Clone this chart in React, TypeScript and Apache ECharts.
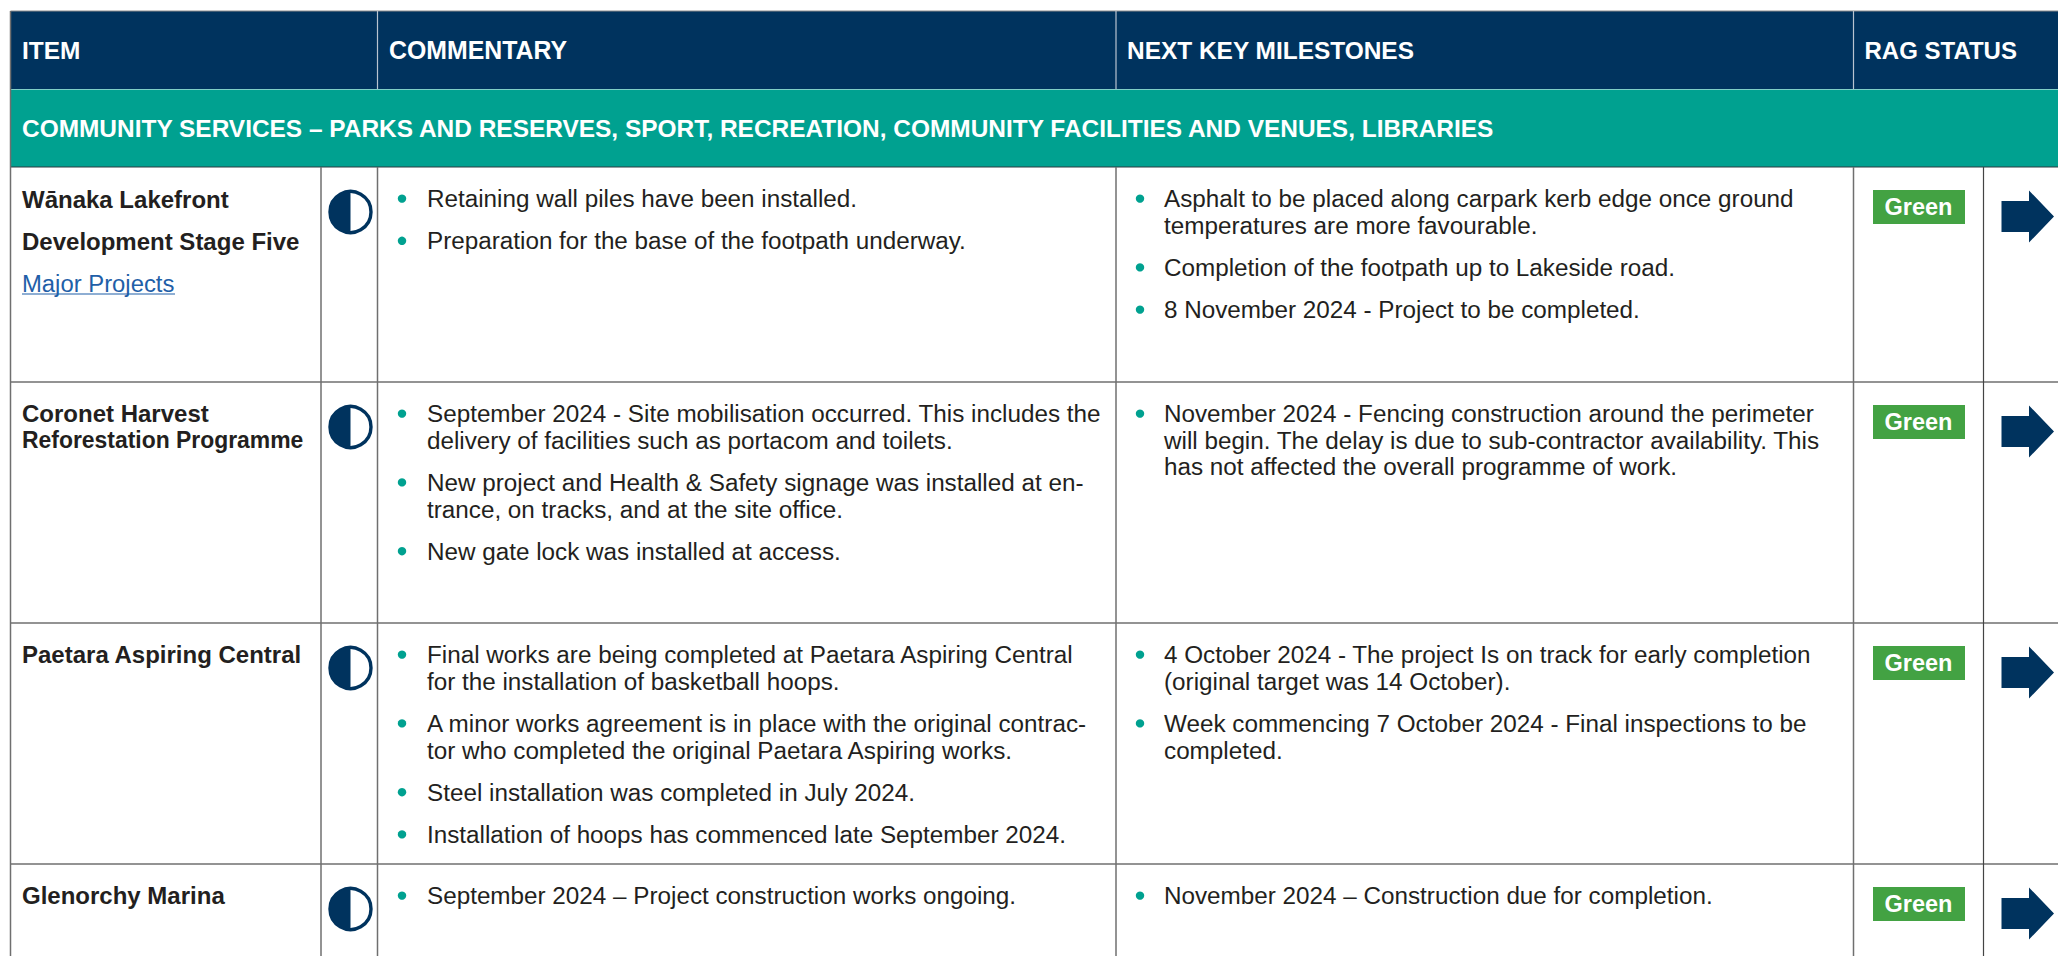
import React, { useEffect, useRef } from "react";
import * as echarts from "echarts";

const columnHeaders = ["ITEM", "COMMENTARY", "NEXT KEY MILESTONES", "RAG STATUS"];
const sectionTitle = "COMMUNITY SERVICES – PARKS AND RESERVES, SPORT, RECREATION, COMMUNITY FACILITIES AND VENUES, LIBRARIES";
const ragLabel = "Green";
const linkLabel = "Major Projects";

const itemNames = [
  ["Wānaka Lakefront", "Development Stage Five"],
  ["Coronet Harvest", "Reforestation Programme"],
  ["Paetara Aspiring Central"],
  ["Glenorchy Marina"],
];
const commentary = [
  [["Retaining wall piles have been installed."], ["Preparation for the base of the footpath underway."]],
  [
    ["September 2024 - Site mobilisation occurred. This includes the", "delivery of facilities such as portacom and toilets."],
    ["New project and Health & Safety signage was installed at en-", "trance, on tracks, and at the site office."],
    ["New gate lock was installed at access."],
  ],
  [
    ["Final works are being completed at Paetara Aspiring Central", "for the installation of basketball hoops."],
    ["A minor works agreement is in place with the original contrac-", "tor who completed the original Paetara Aspiring works."],
    ["Steel installation was completed in July 2024."],
    ["Installation of hoops has commenced late September 2024."],
  ],
  [["September 2024 – Project construction works ongoing."]],
];
const milestones = [
  [
    ["Asphalt to be placed along carpark kerb edge once ground", "temperatures are more favourable."],
    ["Completion of the footpath up to Lakeside road."],
    ["8 November 2024 - Project to be completed."],
  ],
  [["November 2024 - Fencing construction around the perimeter", "will begin. The delay is due to sub-contractor availability. This", "has not affected the overall programme of work."]],
  [
    ["4 October 2024 - The project Is on track for early completion", "(original target was 14 October)."],
    ["Week commencing 7 October 2024 - Final inspections to be", "completed."],
  ],
  [["November 2024 – Construction due for completion."]],
];

const NAVY = "#00335e";
const TEAL = "#00a190";
const GREEN = "#43a243";
const INK = "#231f20";
const LINK = "#1f5fa8";
const RULE = "#6f6f6f";
const FONT = "'Liberation Sans', Arial, sans-serif";

const W = 2058;
const H = 956;
const LEFT = 10.5;
const X_ICON = 321;
const X_COMM = 377.5;
const X_MILE = 1116;
const X_RAG = 1853.5;
const X_ARROW = 1983.5;
const Y_TOP = 11;
const Y_HEAD = 89;
const Y_SECT = 167;
const ROW_TOPS = [167, 382, 623, 864];
const LINE_H = 26.6;
const PARA_GAP = 15.6;
const FS = 24.25;
const FS_BOLD = 24;
const FS_HEAD = 24.45;

const line = (x1: number, y1: number, x2: number, y2: number, stroke = RULE, lineWidth = 1.5) => ({
  type: "line",
  silent: true,
  shape: { x1, y1, x2, y2 },
  style: { stroke, lineWidth },
});

const text = (x: number, y: number, t: string, o: any = {}) => ({
  type: "text",
  x,
  y,
  scaleX: o.scaleX ?? 1,
  silent: true,
  style: {
    text: t,
    fill: o.fill ?? INK,
    fontSize: o.fontSize ?? FS,
    fontWeight: o.fontWeight ?? "normal",
    fontFamily: FONT,
    textAlign: o.textAlign ?? "left",
    textVerticalAlign: "middle",
  },
});

function bulletColumn(out: any[], paras: string[][], top: number, bx: number, tx: number) {
  let y = top + 31.6;
  paras.forEach((p) => {
    out.push({ type: "circle", silent: true, shape: { cx: bx, cy: y, r: 4.2 }, style: { fill: TEAL } });
    p.forEach((l, i) => out.push(text(tx, y + i * LINE_H, l)));
    y += p.length * LINE_H + PARA_GAP;
  });
}

function buildGraphics() {
  const g: any[] = [];
  g.push({ type: "rect", silent: true, shape: { x: LEFT, y: Y_TOP, width: W - LEFT, height: Y_HEAD - Y_TOP }, style: { fill: NAVY } });
  g.push({ type: "rect", silent: true, shape: { x: LEFT, y: Y_HEAD + 0.5, width: W - LEFT, height: Y_SECT - Y_HEAD - 0.5 }, style: { fill: TEAL } });
  g.push(line(LEFT, Y_TOP, W, Y_TOP, "#8a8a8a", 1));
  [X_COMM, X_MILE, X_RAG].forEach((x) => g.push(line(x, Y_TOP, x, Y_HEAD, "#b9c4d0", 1.2)));
  [LEFT + 11.5, X_COMM + 11.5, X_MILE + 11, X_RAG + 11].forEach((x, i) =>
    g.push(text(x, 50.3, columnHeaders[i], { fill: "#fff", fontWeight: "bold", fontSize: i === 3 ? 24 : FS_HEAD + (i === 1 ? 0.4 : 0) }))
  );
  g.push(text(LEFT + 11.5, 128, sectionTitle, { fill: "#fff", fontWeight: "bold", fontSize: FS_HEAD }));

  g.push(line(LEFT, Y_SECT, W, Y_SECT, "#2c3a40", 1.2));
  ROW_TOPS.slice(1).forEach((y) => g.push(line(LEFT, y, W, y)));
  g.push(line(LEFT, Y_TOP, LEFT, H));
  [X_ICON, X_COMM, X_RAG, X_MILE].forEach((x) => g.push(line(x, Y_SECT, x, H)));
  g.push(line(X_ARROW, Y_SECT, X_ARROW, H, "#444", 1.2));

  ROW_TOPS.forEach((top, r) => {
    const names = itemNames[r];
    if (r === 0) {
      g.push(text(LEFT + 11.5, top + 32.5, names[0], { fontWeight: "bold", fontSize: FS_BOLD }));
      g.push(text(LEFT + 11.5, top + 74.5, names[1], { fontWeight: "bold", fontSize: FS_BOLD }));
      g.push(text(LEFT + 11.5, top + 116, linkLabel, { fill: LINK, fontSize: 23.85 }));
      g.push(line(LEFT + 11.5, top + 127, LEFT + 164.5, top + 127, LINK, 1.2));
    } else {
      names.forEach((n, i) =>
        g.push(text(LEFT + 11.5, top + 31.5 + i * LINE_H, n, { fontWeight: "bold", fontSize: FS_BOLD, scaleX: n.startsWith("Reforestation") ? 0.955 : 1 }))
      );
    }
    const cx = 350.5;
    const cy = top + 45;
    g.push({ type: "circle", silent: true, shape: { cx, cy, r: 20.5 }, style: { fill: "#fff", stroke: NAVY, lineWidth: 3.4 } });
    g.push({ type: "sector", silent: true, shape: { cx, cy, r: 21, r0: 0, startAngle: Math.PI / 2, endAngle: (3 * Math.PI) / 2 }, style: { fill: NAVY } });

    bulletColumn(g, commentary[r], top, 402, 427);
    bulletColumn(g, milestones[r], top, 1140, 1164);

    g.push({ type: "rect", silent: true, shape: { x: 1873, y: top + 23, width: 92, height: 34 }, style: { fill: GREEN } });
    g.push(text(1918.5, top + 40, ragLabel, { fill: "#fff", fontWeight: "bold", fontSize: 23.5, textAlign: "center" }));
    g.push({
      type: "polygon",
      silent: true,
      shape: {
        points: [
          [2001.5, top + 34],
          [2029, top + 34],
          [2029, top + 23.5],
          [2054, top + 49.5],
          [2029, top + 75.5],
          [2029, top + 65],
          [2001.5, top + 65],
        ],
      },
      style: { fill: NAVY },
    });
  });
  return g;
}

export default function App() {
  const ref = useRef<HTMLDivElement>(null);
  useEffect(() => {
    const chart = echarts.init(ref.current!, null, { renderer: "svg" });
    chart.setOption({ animation: false, backgroundColor: "#ffffff", graphic: { elements: buildGraphics() } });
    return () => chart.dispose();
  }, []);
  return <div ref={ref} style={{ position: "fixed", left: 0, top: 0, width: W, height: H }} />;
}
